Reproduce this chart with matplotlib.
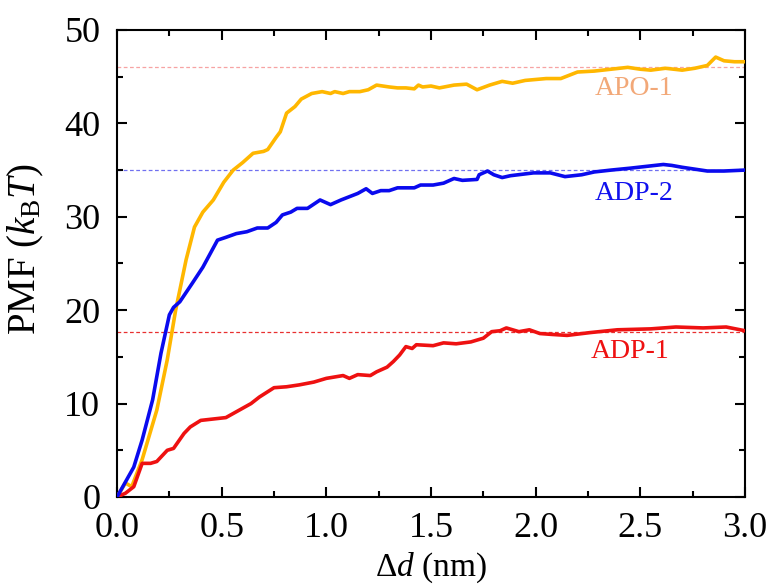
import numpy as np
import matplotlib
matplotlib.use("Agg")
import matplotlib.pyplot as plt
from matplotlib.ticker import MultipleLocator

plt.rcParams['font.family'] = ['Liberation Serif', 'DejaVu Serif']
plt.rcParams['mathtext.fontset'] = 'custom'
plt.rcParams['mathtext.rm'] = 'Liberation Serif'
plt.rcParams['mathtext.it'] = 'Liberation Serif:italic'

# APO-1 (yellow)
apo1_x = [0.0, 0.04, 0.07, 0.12, 0.19, 0.24, 0.28, 0.33, 0.37, 0.41, 0.46, 0.51, 0.555,
          0.6, 0.65, 0.70, 0.72, 0.76, 0.78, 0.81, 0.85, 0.88, 0.93, 0.98, 1.02, 1.04, 1.08,
          1.11, 1.16, 1.20, 1.24, 1.30, 1.34, 1.38, 1.42, 1.44, 1.46, 1.50, 1.54, 1.61,
          1.67, 1.72, 1.78, 1.84, 1.89, 1.95, 2.05, 2.12, 2.20, 2.28, 2.36, 2.44, 2.50,
          2.55, 2.62, 2.70, 2.76, 2.82, 2.86, 2.90, 2.95, 3.0]
apo1_y = [0.0, 1.5, 1.1, 4.0, 9.3, 14.7, 20.0, 25.4, 28.9, 30.5, 31.8, 33.7, 35.0,
          35.8, 36.8, 37.0, 37.2, 38.5, 39.1, 41.1, 41.8, 42.6, 43.2, 43.4, 43.2, 43.4, 43.2,
          43.4, 43.4, 43.6, 44.1, 43.9, 43.8, 43.8, 43.7, 44.1, 43.9, 44.0, 43.8, 44.1,
          44.2, 43.6, 44.1, 44.5, 44.3, 44.6, 44.8, 44.8, 45.5, 45.6, 45.8, 46.0, 45.8,
          45.7, 45.9, 45.7, 45.9, 46.2, 47.1, 46.7, 46.6, 46.6]

# ADP-2 (blue)
adp2_x = [0.0, 0.04, 0.08, 0.12, 0.17, 0.21, 0.25, 0.27, 0.30, 0.36, 0.41, 0.48, 0.52,
          0.57, 0.62, 0.67, 0.72, 0.76, 0.79, 0.83, 0.86, 0.91, 0.97, 1.02, 1.07, 1.15,
          1.19, 1.22, 1.26, 1.30, 1.34, 1.42, 1.45, 1.51, 1.56, 1.61, 1.65, 1.72, 1.73,
          1.77, 1.80, 1.84, 1.88, 1.99, 2.07, 2.14, 2.22, 2.28, 2.36, 2.45, 2.53, 2.61,
          2.65, 2.70, 2.76, 2.82, 2.90, 3.0]
adp2_y = [0.0, 1.6, 3.2, 6.1, 10.4, 15.4, 19.5, 20.3, 20.9, 22.9, 24.6, 27.5, 27.8,
          28.2, 28.4, 28.8, 28.8, 29.4, 30.2, 30.5, 30.9, 30.9, 31.8, 31.3, 31.8, 32.5,
          33.0, 32.5, 32.8, 32.8, 33.1, 33.1, 33.4, 33.4, 33.6, 34.1, 33.9, 34.0, 34.5,
          34.9, 34.5, 34.2, 34.4, 34.7, 34.7, 34.3, 34.5, 34.8, 35.0, 35.2, 35.4, 35.6,
          35.5, 35.3, 35.1, 34.9, 34.9, 35.0]

# ADP-1 (red)
adp1_x = [0.0, 0.04, 0.08, 0.12, 0.16, 0.19, 0.24, 0.27, 0.32, 0.35, 0.40, 0.48, 0.52,
          0.56, 0.64, 0.68, 0.75, 0.81, 0.87, 0.94, 1.00, 1.08, 1.11, 1.15, 1.21, 1.24,
          1.29, 1.32, 1.35, 1.38, 1.41, 1.43, 1.51, 1.56, 1.62, 1.69, 1.75, 1.79, 1.83,
          1.86, 1.92, 1.97, 2.02, 2.08, 2.15, 2.26, 2.39, 2.55, 2.67, 2.80, 2.91, 3.0]
adp1_y = [0.0, 0.4, 1.1, 3.6, 3.6, 3.8, 5.0, 5.2, 6.8, 7.5, 8.2, 8.4, 8.5,
          9.0, 10.0, 10.7, 11.7, 11.8, 12.0, 12.3, 12.7, 13.0, 12.7, 13.1, 13.0, 13.4,
          13.9, 14.5, 15.2, 16.1, 15.9, 16.3, 16.2, 16.5, 16.4, 16.6, 17.0, 17.7, 17.8,
          18.1, 17.7, 17.9, 17.5, 17.4, 17.3, 17.6, 17.9, 18.0, 18.2, 18.1, 18.2, 17.8]

ref_levels = [46.0, 35.0, 17.7]
ref_colors = ['#f7a3a3', '#7070f0', '#e83030']
labels = ['APO-1', 'ADP-2', 'ADP-1']
label_colors = ['#f2a878', '#1010ee', '#ee1111']
label_pos = [(2.47, 43.7), (2.47, 32.5), (2.45, 15.6)]

fig = plt.figure(figsize=(7.72, 5.88), dpi=100)
ax = fig.add_axes([0.1516, 0.1548, 0.8134, 0.7942])

for lvl, c in zip(ref_levels, ref_colors):
    ax.plot([0, 3.0], [lvl, lvl], ls=(0, (3, 2)), lw=0.9, color=c, zorder=1)

ax.plot(apo1_x, apo1_y, color='#ffb700', lw=2.6, zorder=3)
ax.plot(adp2_x, adp2_y, color='#0a0aee', lw=2.6, zorder=4)
ax.plot(adp1_x, adp1_y, color='#ee1111', lw=2.6, zorder=3)

for t, c, (x, y) in zip(labels, label_colors, label_pos):
    ax.text(x, y, t, color=c, fontsize=20, ha='center', va='center')

ax.set_xlim(0, 3.0)
ax.set_ylim(0, 50)
ax.xaxis.set_major_locator(MultipleLocator(0.5))
ax.xaxis.set_minor_locator(MultipleLocator(0.25))
ax.yaxis.set_major_locator(MultipleLocator(10))
ax.yaxis.set_minor_locator(MultipleLocator(5))
ax.xaxis.set_major_formatter(matplotlib.ticker.FormatStrFormatter('%.1f'))
ax.tick_params(which='both', direction='in', top=True, right=True, width=1.5, labelsize=26)
ax.tick_params(which='major', length=7)
ax.tick_params(axis='x', which='major', pad=11)
ax.tick_params(axis='y', which='major', pad=12)
ax.tick_params(which='minor', length=4)
for s in ax.spines.values():
    s.set_linewidth(1.5)

ax.set_xlabel(r'$\Delta d$ (nm)', fontsize=24)
ax.set_ylabel(r'PMF ($k_\mathrm{B}T$)', fontsize=28)
ax.xaxis.set_label_coords(0.5, -0.114)
ax.yaxis.set_label_coords(-0.113, 0.53)

fig.savefig('out.png', dpi=100)
